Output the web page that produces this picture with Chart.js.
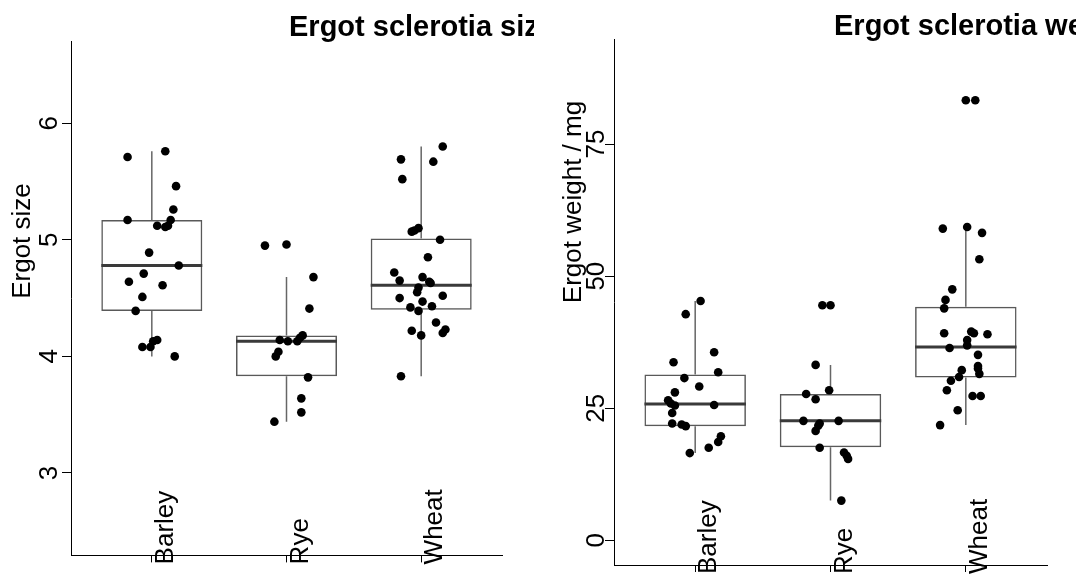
<!DOCTYPE html>
<html>
<head>
<meta charset="utf-8">
<script src="https://cdn.jsdelivr.net/npm/chart.js@4.4.1/dist/chart.umd.min.js"></script>
<style>
  html, body { margin: 0; padding: 0; background: #ffffff; }
  #wrap { display: flex; width: 1076px; height: 576px; overflow: hidden; }
  canvas { display: block; }
</style>
</head>
<body>
<div id="wrap">
  <canvas id="sizeChart" width="534" height="576"></canvas>
  <canvas id="weightChart" width="542" height="576"></canvas>
</div>
<script>
const categories = ["Barley", "Rye", "Wheat"];

// Ergot size, one array per cereal; jitter is the horizontal offset
const barleySize = [5.71, 5.76, 5.46, 5.26, 5.17, 5.17, 5.12, 5.11, 5.12, 4.89, 4.78, 4.71, 4.64, 4.61, 4.51, 4.39, 4.08, 4.08, 4.13, 4.14, 4.00];
const barleySizeJitter = [-0.18, 0.10, 0.18, 0.16, -0.18, 0.14, 0.04, 0.10, 0.12, -0.02, 0.20, -0.06, -0.17, 0.08, -0.07, -0.12, -0.07, -0.01, 0.01, 0.04, 0.17];
const ryeSize = [4.95, 4.96, 4.68, 4.41, 4.18, 4.16, 4.14, 4.13, 4.13, 4.04, 4.00, 3.82, 3.64, 3.52, 3.44];
const ryeSizeJitter = [-0.16, 0.00, 0.20, 0.17, 0.12, 0.10, -0.05, 0.01, 0.08, -0.06, -0.08, 0.16, 0.11, 0.11, -0.09];
const wheatSize = [5.80, 5.69, 5.67, 5.52, 5.07, 5.08, 5.10, 5.00, 4.85, 4.72, 4.65, 4.68, 4.64, 4.63, 4.59, 4.55, 4.50, 4.52, 4.47, 4.42, 4.39, 4.43, 4.29, 4.22, 4.18, 4.20, 4.23, 3.83];
const wheatSizeJitter = [0.16, -0.15, 0.09, -0.14, -0.07, -0.05, -0.02, 0.14, 0.05, -0.20, -0.16, 0.01, 0.06, 0.07, -0.02, -0.03, -0.16, 0.16, 0.01, -0.08, -0.02, 0.08, 0.11, -0.07, 0.00, 0.16, 0.18, -0.15];

const sizeLow = [4.00, 3.44, 3.83];
const sizeQ1 = [4.39, 3.83, 4.40];
const sizeMedian = [4.78, 4.13, 4.61];
const sizeQ3 = [5.17, 4.18, 5.01];
const sizeHigh = [5.76, 4.68, 5.80];
const sizeTicks = [3, 4, 5, 6];

// Ergot weight (mg)
const barleyWeight = [45.3, 42.8, 35.6, 33.7, 31.8, 30.7, 29.1, 28.0, 26.5, 25.9, 25.5, 25.6, 24.1, 22.1, 21.9, 21.6, 19.7, 18.6, 17.5, 16.5];
const barleyWeightJitter = [0.04, -0.07, 0.14, -0.16, 0.17, -0.08, 0.03, -0.15, -0.20, -0.18, -0.15, 0.14, -0.17, -0.17, -0.10, -0.07, 0.19, 0.17, 0.10, -0.04];
const ryeWeight = [44.5, 44.5, 33.2, 28.4, 27.7, 26.7, 22.6, 22.6, 22.1, 21.7, 20.7, 17.5, 16.6, 16.0, 15.4, 7.5];
const ryeWeightJitter = [-0.06, 0.00, -0.11, -0.01, -0.18, -0.11, -0.20, 0.06, -0.08, -0.09, -0.11, -0.08, 0.10, 0.12, 0.13, 0.08];
const wheatWeight = [83.3, 83.3, 59.0, 59.3, 58.2, 53.2, 47.5, 45.5, 43.9, 39.2, 39.5, 39.2, 39.0, 37.9, 36.9, 36.4, 35.1, 33.0, 32.5, 32.2, 31.5, 30.9, 30.2, 28.4, 27.3, 27.3, 24.6, 21.8];
const wheatWeightJitter = [0.00, 0.07, -0.17, 0.01, 0.12, 0.10, -0.10, -0.15, -0.16, -0.16, 0.04, 0.06, 0.16, 0.01, 0.01, -0.12, 0.09, 0.09, 0.09, -0.03, 0.10, -0.05, -0.11, -0.14, 0.05, 0.11, -0.06, -0.19];

const weightLow = [16.5, 7.5, 21.8];
const weightQ1 = [21.6, 17.6, 30.8];
const weightMedian = [25.8, 22.6, 36.6];
const weightQ3 = [31.4, 27.7, 44.2];
const weightHigh = [45.3, 33.2, 59.0];
const weightTicks = [0, 25, 50, 75];

const FONT = '"Liberation Sans", Arial, Helvetica, sans-serif';
const BOX_WIDTH = 0.75;
Chart.defaults.font.family = FONT;
Chart.defaults.color = "#000000";

// titles, y axis title and the rotated category names
const panelText = {
    id: "panelText",
    afterDraw(chart, args, o) {
        const ctx = chart.ctx;
        const area = chart.chartArea;
        const xScale = chart.scales.x;
        ctx.save();
        ctx.fillStyle = "#000000";
        ctx.font = "bold 29px " + FONT;
        ctx.textAlign = "left";
        ctx.textBaseline = "alphabetic";
        ctx.fillText(o.title, area.left + o.titleShift, o.titleBaseline);

        ctx.font = "26px " + FONT;
        ctx.save();
        ctx.translate(area.left - o.yTitleGap, o.yTitleCenter);
        ctx.rotate(-Math.PI / 2);
        ctx.textAlign = "center";
        ctx.textBaseline = "middle";
        ctx.fillText(o.yTitle, 0, 0);
        ctx.restore();

        categories.forEach(function (name, i) {
            ctx.save();
            ctx.translate(xScale.getPixelForValue(i + 1) + 21, xScale.top + 9);
            ctx.rotate(-Math.PI / 2);
            ctx.textAlign = "left";
            ctx.textBaseline = "alphabetic";
            ctx.fillText(name, 0, 0);
            ctx.restore();
        });
        ctx.restore();
    }
};

function makePanel(canvasId, p) {
    const boxData = [];
    const whiskerData = [];
    const medianData = [];
    const pointData = [];
    categories.forEach(function (name, i) {
        const x = i + 1;
        boxData.push({x: x, y: [p.q1[i], p.q3[i]]});
        whiskerData.push({x: x, y: p.low[i]}, {x: x, y: p.q1[i]}, {x: x, y: null},
            {x: x, y: p.q3[i]}, {x: x, y: p.high[i]}, {x: x, y: null});
        medianData.push({x: x - BOX_WIDTH / 2, y: p.median[i]}, {x: x + BOX_WIDTH / 2, y: p.median[i]}, {x: x, y: null});
        p.values[i].forEach(function (v, j) {
            pointData.push({x: x + p.jitter[i][j], y: v});
        });
    });

    return new Chart(document.getElementById(canvasId).getContext("2d"), {
        type: "bar",
        data: {
            datasets: [{
                type: "scatter",
                data: pointData,
                order: 0,
                pointRadius: 4.3,
                pointBackgroundColor: "#000000",
                pointBorderWidth: 0,
                showLine: false
            }, {
                type: "line",
                data: medianData,
                order: 1,
                borderColor: "#3a3a3a",
                borderWidth: 3,
                pointRadius: 0,
                spanGaps: false
            }, {
                type: "line",
                data: whiskerData,
                order: 2,
                borderColor: "#666666",
                borderWidth: 1.5,
                pointRadius: 0,
                spanGaps: false
            }, {
                type: "bar",
                data: boxData,
                order: 3,
                backgroundColor: "rgba(255,255,255,0)",
                borderColor: "#595959",
                borderWidth: 1.5,
                borderSkipped: false,
                barPercentage: BOX_WIDTH,
                categoryPercentage: 1
            }]
        },
        options: {
            responsive: false,
            animation: false,
            devicePixelRatio: 1,
            layout: {padding: {top: p.top, right: p.right, left: 0, bottom: 0}},
            plugins: {
                legend: {display: false},
                tooltip: {enabled: false},
                panelText: p.text
            },
            scales: {
                x: {
                    type: "linear",
                    offset: false,
                    min: 0.4,
                    max: 3.6,
                    afterBuildTicks: function (scale) {
                        scale.ticks = categories.map(function (c, i) { return {value: i + 1}; });
                    },
                    afterFit: function (scale) { scale.height = p.xHeight; },
                    ticks: {display: false},
                    grid: {offset: false, drawOnChartArea: false, tickLength: 7, color: "#000000", lineWidth: 1},
                    border: {color: "#000000", width: 1}
                },
                y: {
                    type: "linear",
                    min: p.yMin,
                    max: p.yMax,
                    afterBuildTicks: function (scale) {
                        scale.ticks = p.ticks.map(function (v) { return {value: v}; });
                    },
                    afterFit: function (scale) { scale.width = p.yWidth; },
                    ticks: {
                        minRotation: 90,
                        maxRotation: 90,
                        crossAlign: "center",
                        padding: p.tickPad,
                        color: "#000000",
                        font: {size: 26}
                    },
                    grid: {drawOnChartArea: false, tickLength: 9, color: "#000000", lineWidth: 1},
                    border: {color: "#000000", width: 1}
                }
            }
        },
        plugins: [panelText]
    });
}

document.addEventListener("DOMContentLoaded", function () {
    makePanel("sizeChart", {
        values: [barleySize, ryeSize, wheatSize],
        jitter: [barleySizeJitter, ryeSizeJitter, wheatSizeJitter],
        low: sizeLow, q1: sizeQ1, median: sizeMedian, q3: sizeQ3, high: sizeHigh,
        ticks: sizeTicks,
        yMin: 2.293, yMax: 6.705,
        top: 41, right: 32, yWidth: 71, xHeight: 15, tickPad: 5,
        text: {title: "Ergot sclerotia size", titleShift: 218, titleBaseline: 36,
            yTitle: "Ergot size", yTitleGap: 48, yTitleCenter: 241}
    });
    makePanel("weightChart", {
        values: [barleyWeight, ryeWeight, wheatWeight],
        jitter: [barleyWeightJitter, ryeWeightJitter, wheatWeightJitter],
        low: weightLow, q1: weightQ1, median: weightMedian, q3: weightQ3, high: weightHigh,
        ticks: weightTicks,
        yMin: -4.69, yMax: 94.9,
        top: 39, right: 29, yWidth: 80, xHeight: 11, tickPad: -6,
        text: {title: "Ergot sclerotia weight", titleShift: 220, titleBaseline: 35,
            yTitle: "Ergot weight / mg", yTitleGap: 40, yTitleCenter: 202}
    });
});
</script>
</body>
</html>
